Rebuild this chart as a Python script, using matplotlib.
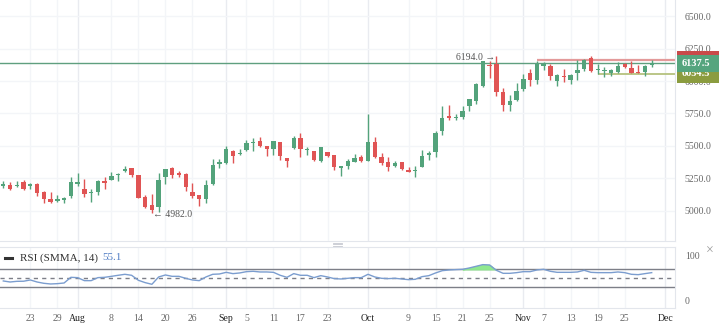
import matplotlib
matplotlib.use('Agg')
import matplotlib.pyplot as plt
import matplotlib.transforms as mtransforms
from matplotlib.patches import Rectangle
from matplotlib.lines import Line2D
import numpy as np

plt.rcParams['font.family'] = ['Liberation Serif', 'DejaVu Sans']

# daily candles
opens = [5188, 5198, 5188, 5219, 5188, 5204, 5147, 5093, 5077, 5085,
         5116, 5204, 5168, 5134, 5142, 5232, 5240, 5278, 5309, 5330,
         5278, 5108, 5044, 5031, 5263, 5330, 5289, 5283, 5149, 5121,
         5095, 5206, 5358, 5366, 5464, 5438, 5472, 5521, 5536, 5500,
         5479, 5528, 5405, 5487, 5562, 5466, 5461, 5387, 5451, 5428,
         5327, 5348, 5379, 5412, 5387, 5533, 5412, 5376, 5348, 5376,
         5317, 5304, 5340, 5433, 5451, 5618, 5727, 5714, 5722, 5804,
         5850, 5959, 6121, 6134, 5912, 5812, 5856, 5935, 6064, 6005,
         6113, 6116, 6000, 6036, 6005, 6064, 6095, 6178, 6082, 6077,
         6062, 6069, 6129, 6100, 6069, 6069, 6126]
highs = [5232, 5219, 5232, 5237, 5211, 5211, 5155, 5149, 5121, 5108,
         5258, 5289, 5245, 5168, 5235, 5263, 5296, 5288, 5345, 5332,
         5280, 5124, 5129, 5294, 5325, 5340, 5304, 5289, 5211, 5123,
         5237, 5397, 5397, 5500, 5469, 5474, 5546, 5559, 5567, 5502,
         5541, 5530, 5407, 5577, 5600, 5490, 5464, 5495, 5456, 5430,
         5348, 5397, 5438, 5433, 5747, 5567, 5448, 5412, 5387, 5378,
         5340, 5348, 5469, 5464, 5618, 5804, 5817, 5747, 5804, 5860,
         5982, 6155, 6152, 6194, 5948, 5894, 5984, 6051, 6095, 6152,
         6147, 6129, 6051, 6095, 6051, 6165, 6172, 6190, 6134, 6108,
         6090, 6147, 6139, 6152, 6121, 6121, 6160]
lows = [5173, 5163, 5186, 5163, 5168, 5116, 5059, 5059, 5072, 5057,
        5098, 5193, 5108, 5072, 5124, 5165, 5237, 5232, 5302, 5263,
        5098, 5024, 4982, 4995, 5206, 5255, 5258, 5155, 5103, 5041,
        5062, 5201, 5330, 5358, 5371, 5433, 5464, 5459, 5490, 5425,
        5433, 5392, 5335, 5477, 5412, 5433, 5387, 5374, 5412, 5314,
        5265, 5322, 5374, 5374, 5381, 5407, 5356, 5304, 5335, 5317,
        5296, 5263, 5335, 5392, 5412, 5588, 5701, 5701, 5709, 5768,
        5825, 5953, 6026, 5881, 5773, 5773, 5850, 5923, 5959, 5974,
        6082, 6005, 5959, 5992, 5979, 6005, 6077, 6069, 6057, 6031,
        6036, 6062, 6100, 6062, 6062, 6036, 6108]
closes = [5206, 5165, 5198, 5165, 5206, 5139, 5095, 5070, 5090, 5103,
          5224, 5219, 5129, 5142, 5232, 5211, 5268, 5286, 5322, 5276,
          5103, 5026, 5008, 5237, 5322, 5278, 5276, 5186, 5116, 5088,
          5198, 5356, 5379, 5474, 5423, 5448, 5521, 5526, 5497, 5479,
          5536, 5425, 5381, 5559, 5474, 5474, 5394, 5490, 5425, 5340,
          5343, 5387, 5407, 5381, 5533, 5412, 5366, 5340, 5366, 5322,
          5302, 5312, 5425, 5448, 5600, 5714, 5716, 5722, 5768, 5858,
          5979, 6152, 6113, 5915, 5819, 5850, 5923, 6018, 6005, 6134,
          6134, 6041, 6046, 6028, 6046, 6082, 6160, 6075, 6090, 6082,
          6087, 6113, 6108, 6064, 6064, 6113, 6137.5]

rsi = [44.1, 41.8, 43.3, 43.5, 46.3, 41.8, 38.9, 37.4, 38.1, 39.6,
       52.2, 51.5, 44.8, 44.8, 51.5, 52.2, 54.4, 56.7, 58.9, 56.7,
       45.6, 40.4, 36.7, 53.0, 57.4, 54.4, 54.4, 50.0, 46.3, 44.8,
       53.0, 58.9, 59.6, 63.3, 60.4, 61.9, 64.8, 65.6, 64.1, 64.1,
       63.3, 56.7, 52.2, 60.4, 56.7, 56.7, 51.5, 55.9, 53.0, 49.3,
       48.5, 50.0, 51.5, 51.5, 58.9, 53.0, 50.0, 49.3, 50.0, 48.5,
       47.0, 47.8, 53.7, 55.9, 61.9, 67.0, 68.5, 69.3, 70.0, 73.0,
       76.7, 80.4, 79.6, 67.8, 61.1, 61.1, 62.6, 64.8, 64.8, 68.5,
       70.0, 65.6, 63.3, 63.3, 63.3, 64.1, 67.8, 63.3, 62.6, 62.6,
       62.6, 64.1, 62.6, 58.9, 58.1, 60.4, 62.6]

tick_pos = [4, 8, 11, 16, 20, 24, 28, 33, 36, 40, 44, 48, 54, 60, 64, 68, 72,
            77, 80, 84, 88, 92, 98]
tick_labels = ['23', '29', 'Aug', '8', '14', '20', '26', 'Sep', '5', '11', '17',
               '23', 'Oct', '9', '15', '21', '25', 'Nov', '7', '13', '19', '25', 'Dec']
months = ['Aug', 'Sep', 'Oct', 'Nov', 'Dec']

price_ticks = [5000, 5250, 5500, 5750, 6000, 6250, 6500]
last_price = 6137.5
range_high = 6165
range_low = 6054.5
high_mark = 6194.0
low_mark = 4982.0
rsi_now = 55.1

GREEN = '#53a37b'
RED = '#e05454'
GRID = '#f3f5f8'
MONTH_GRID = '#e9ebf0'
TXT = '#666666'

W, H = 719, 327
fig = plt.figure(figsize=(W / 100, H / 100), dpi=100)
ax = fig.add_axes([0, 1 - 241 / H, 675 / W, 241 / H])
ax2 = fig.add_axes([0, 1 - 308 / H, 675 / W, 61 / H], sharex=ax)

x = np.arange(len(closes))
o = np.array(opens, float)
c = np.array(closes, float)
up = c >= o
cols = np.where(up, GREEN, RED)

# candles
ax.vlines(x, lows, highs, colors=cols, lw=1, zorder=3)
ax.bar(x, np.maximum(np.abs(c - o), 7), bottom=np.minimum(o, c), width=0.64,
       color=cols, linewidth=0, zorder=4)

ax.set_xlim(-0.49, 99.45)
ax.set_ylim(4768, 6624)
ax.set_yticks(price_ticks)
ax.set_yticklabels([f'{v:.1f}' for v in price_ticks])
ax.yaxis.tick_right()
ax.grid(axis='y', color=GRID, lw=1, zorder=0)
ax.tick_params(axis='both', length=0, labelsize=7, colors=TXT, pad=7)
ax.tick_params(axis='x', labelbottom=False)

# horizontal price lines
ax.axhline(last_price, color='#5f9f7f', lw=1, zorder=2)
ax.hlines(range_high, 79, 99.45, color='#e39a9a', lw=1.6, zorder=2)
ax.hlines(range_low, 88, 99.45, color='#b5c27e', lw=1.3, zorder=2)

ax.text(72.8, 6185, f'{high_mark:.1f} →', ha='right', va='center', fontsize=7, color='#555555')
ax.text(22.2, 4974, f'← {low_mark:.1f}', ha='left', va='center', fontsize=7, color='#555555')

# labels on the price scale, each one stacked over the previous
trans = mtransforms.blended_transform_factory(ax.transAxes, ax.transData)
z = 10
for val, col, txt, hpx in [(range_low, '#8b9c3f', f'{range_low:.1f}', 18),
                           (range_high, '#c94a4a', '', 18),
                           (last_price, '#55a57e', f'{last_price:.1f}', 17)]:
    bh = hpx * 7.732
    ax.add_patch(Rectangle((1.003, val - bh / 2), 0.07, bh, transform=trans,
                           facecolor=col, edgecolor='none', clip_on=False, zorder=z))
    if txt:
        ax.text(1.031, val, txt, transform=trans, ha='center', va='center', fontsize=7.5,
                color='white', fontweight='bold', clip_on=False, zorder=z + 0.5)
    z += 1

# RSI pane
rs = np.array(rsi)
ax2.plot(x, rs, color='#7b9dcf', lw=1, zorder=4)
ax2.fill_between(x, rs, 70, where=rs > 70, interpolate=True, color='#8fe88f', zorder=3)
ax2.axhline(70, color='#7d7f88', lw=1)
ax2.axhline(30, color='#7d7f88', lw=1)
ax2.axhline(50, color='#7d7f88', lw=1, ls=(0, (3, 3)))
ax2.set_ylim(-16, 119.6)
ax2.set_yticks([0, 100])
ax2.set_yticklabels(['0', '100'])
ax2.yaxis.tick_right()
ax2.tick_params(axis='both', length=0, labelsize=7, colors=TXT)
ax2.tick_params(axis='y', pad=7)
ax2.tick_params(axis='x', pad=4)
ax2.set_xticks(tick_pos)
ax2.set_xticklabels(tick_labels)
for lab in ax2.get_xticklabels():
    if lab.get_text() in months:
        lab.set_color('#222222')

# vertical grid in both panes
for a in (ax, ax2):
    for p, lab in zip(tick_pos, tick_labels):
        a.axvline(p, color=MONTH_GRID if lab in months else GRID, lw=1, zorder=0)
    for s in a.spines.values():
        s.set_color('#e3e6ec')
    a.spines['left'].set_visible(False)
ax.spines['top'].set_visible(False)

# pane header and decorations
fig.add_artist(Line2D([5 / W, 12 / W], [1 - 257.7 / H] * 2, color='#333333', lw=2.2))
fig.text(20 / W, 1 - 257.7 / H, 'RSI (SMMA, 14)', fontsize=8, color='#333333', va='center')
fig.text(102 / W, 1 - 257.7 / H, f'{rsi_now}', fontsize=8, color='#4f7cc4', va='center')
fig.text(710 / W, 1 - 251 / H, '×', fontsize=10, color='#9a9a9a', ha='center', va='center')
for yy in (242.5, 244, 245.5):
    fig.add_artist(Line2D([333 / W, 342 / W], [1 - yy / H] * 2, color='#c5c8d0', lw=0.6))

fig.savefig('out.png', dpi=100)
